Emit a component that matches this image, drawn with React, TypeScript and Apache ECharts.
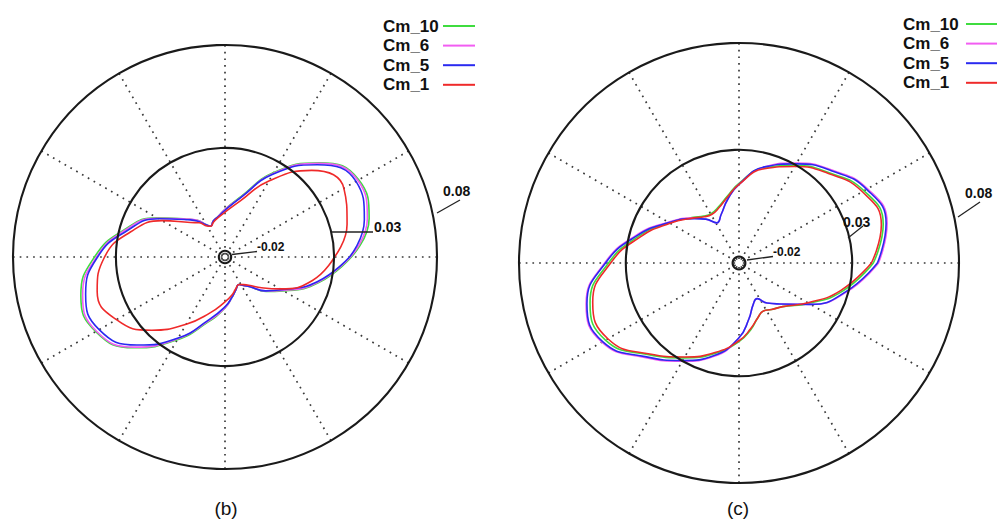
import React, { useEffect, useRef } from 'react';
import * as echarts from 'echarts';

// ---------------- data ----------------
const seriesNames = ['Cm_10', 'Cm_6', 'Cm_5', 'Cm_1'];
const seriesColors = ['#3fdc3f', '#f25df2', '#2a2af0', '#ef2a2a'];

const ringValues = [-0.02, 0.03, 0.08];
const ringLabels = ['-0.02', '0.03', '0.08'];
const radiusMin = -0.023;
const radiusMax = 0.08;
const angleStep = 30;

const panelLabels = ['(b)', '(c)'];

// panel (b)
const anglesB = [0, 15, 30, 45, 60, 75, 90, 100, 108, 115, 120, 127, 135, 150, 165, 180, 195, 210, 225, 240, 255, 270, 280, 288, 297, 303, 310, 320, 330, 345];
const cm10B = [0.0384, 0.0495, 0.0520, 0.0418, 0.0244, 0.0075, 0.0002, -0.0032, -0.0046, -0.0065, -0.0051, -0.0007, 0.0031, 0.0152, 0.0278, 0.0404, 0.0495, 0.0495, 0.0394, 0.0234, 0.0099, 0.0017, -0.0032, -0.0061, -0.0080, -0.0065, -0.0041, 0.0031, 0.0099, 0.0244];
const cm6B = [0.0379, 0.0486, 0.0515, 0.0413, 0.0239, 0.0070, 0.0002, -0.0032, -0.0046, -0.0065, -0.0051, -0.0007, 0.0031, 0.0147, 0.0273, 0.0394, 0.0486, 0.0491, 0.0389, 0.0229, 0.0094, 0.0017, -0.0032, -0.0061, -0.0080, -0.0065, -0.0041, 0.0026, 0.0094, 0.0239];
const cm5B = [0.0375, 0.0471, 0.0505, 0.0404, 0.0234, 0.0070, -0.0003, -0.0032, -0.0046, -0.0065, -0.0051, -0.0012, 0.0026, 0.0142, 0.0263, 0.0389, 0.0471, 0.0476, 0.0375, 0.0225, 0.0089, 0.0012, -0.0032, -0.0061, -0.0080, -0.0065, -0.0041, 0.0026, 0.0089, 0.0234];
const cm1B = [0.0302, 0.0384, 0.0437, 0.0365, 0.0196, 0.0051, -0.0012, -0.0036, -0.0051, -0.0065, -0.0056, -0.0022, 0.0007, 0.0123, 0.0244, 0.0355, 0.0413, 0.0379, 0.0273, 0.0147, 0.0051, -0.0012, -0.0041, -0.0065, -0.0080, -0.0070, -0.0051, 0.0002, 0.0080, 0.0210];

// panel (c)
const anglesC = [0, 15, 30, 45, 60, 75, 90, 100, 110, 119, 127, 135, 150, 165, 180, 195, 210, 225, 240, 255, 270, 280, 289, 297, 305, 315, 330, 345];
const cm10C = [0.0399, 0.0469, 0.0446, 0.0367, 0.0297, 0.0232, 0.0143, 0.0087, 0.0050, 0.0036, 0.0045, 0.0073, 0.0148, 0.0255, 0.0381, 0.0492, 0.0492, 0.0376, 0.0283, 0.0208, 0.0138, 0.0087, 0.0041, 0.0022, 0.0036, 0.0059, 0.0148, 0.0274];
const cm6C = [0.0423, 0.0488, 0.0465, 0.0385, 0.0311, 0.0236, 0.0138, 0.0073, 0.0013, -0.0015, 0.0027, 0.0069, 0.0152, 0.0269, 0.0399, 0.0511, 0.0511, 0.0395, 0.0301, 0.0222, 0.0120, 0.0036, -0.0025, -0.0043, -0.0001, 0.0041, 0.0157, 0.0292];
const cm5C = [0.0418, 0.0483, 0.0460, 0.0381, 0.0306, 0.0236, 0.0138, 0.0073, 0.0013, -0.0015, 0.0027, 0.0064, 0.0148, 0.0264, 0.0395, 0.0507, 0.0507, 0.0390, 0.0297, 0.0218, 0.0120, 0.0036, -0.0025, -0.0043, -0.0001, 0.0041, 0.0157, 0.0288];
const cm1C = [0.0390, 0.0460, 0.0437, 0.0362, 0.0292, 0.0227, 0.0138, 0.0083, 0.0045, 0.0031, 0.0041, 0.0069, 0.0143, 0.0246, 0.0371, 0.0479, 0.0479, 0.0371, 0.0278, 0.0204, 0.0134, 0.0083, 0.0041, 0.0022, 0.0036, 0.0059, 0.0143, 0.0264];

const panelsData = [
  { angles: anglesB, values: [cm10B, cm6B, cm5B, cm1B] },
  { angles: anglesC, values: [cm10C, cm6C, cm5C, cm1C] },
];

// ---------------- layout ----------------
const polarLayout = [
  { center: [225, 257], radius: 212 },
  { center: [739, 263], radius: 220 },
];

const FONT = '"Liberation Sans", Arial, sans-serif';

function toPairs(values: number[], angles: number[]) {
  const pts = values.map((v, i) => [v, angles[i]]);
  pts.push([values[0], 360]);
  return pts;
}

function leader(x1: number, y1: number, x2: number, y2: number) {
  return {
    type: 'line',
    silent: true,
    z: 10,
    shape: { x1, y1, x2, y2 },
    style: { stroke: '#222', lineWidth: 1.3 },
  };
}

function label(text: string, x: number, y: number, size: number) {
  return {
    type: 'text',
    silent: true,
    z: 10,
    x,
    y,
    style: {
      text,
      fill: '#111',
      fontFamily: FONT,
      fontWeight: 'bold',
      fontSize: size,
      align: 'left',
      verticalAlign: 'middle',
    },
  };
}

export default function App() {
  const ref = useRef<HTMLDivElement>(null);

  useEffect(() => {
    if (!ref.current) return;
    const chart = echarts.init(ref.current, undefined, { renderer: 'svg' });

    const series: any[] = [];
    panelsData.forEach((panel, p) => {
      seriesNames.forEach((name, s) => {
        series.push({
          type: 'line',
          name,
          coordinateSystem: 'polar',
          polarIndex: p,
          data: toPairs(panel.values[s], panel.angles),
          symbol: 'none',
          smooth: 0.5,
          lineStyle: { color: seriesColors[s], width: 1.6 },
          itemStyle: { color: seriesColors[s] },
          z: 3,
        });
      });
    });

    const richText = (w: number) => ({
      n: { width: w, align: 'left', fontFamily: FONT, fontWeight: 'bold', fontSize: 17, lineHeight: 18, color: '#111' },
    });

    const legendBase = {
      data: seriesNames,
      orient: 'vertical',
      align: 'right',
      icon: 'rect',
      itemWidth: 32,
      itemHeight: 2,
      itemGap: 1.6,
      formatter: '{n|{name}}',
    };

    const option: any = {
      animation: false,
      backgroundColor: '#ffffff',
      polar: polarLayout.map((l) => ({ center: l.center, radius: l.radius })),
      angleAxis: polarLayout.map((_, i) => ({
        polarIndex: i,
        type: 'value',
        min: 0,
        max: 360,
        interval: angleStep,
        startAngle: 0,
        clockwise: false,
        axisLine: { show: false },
        axisTick: { show: false },
        axisLabel: { show: false },
        splitLine: {
          show: true,
          lineStyle: { color: '#3a3a3a', width: 1.7, type: [1.7, 5] },
        },
      })),
      radiusAxis: polarLayout.map((_, i) => ({
        polarIndex: i,
        type: 'value',
        min: radiusMin,
        max: radiusMax,
        axisLine: { show: false },
        axisLabel: { show: false },
        axisTick: { show: false, customValues: ringValues },
        splitLine: { show: true, lineStyle: { color: '#1a1a1a', width: 2.1 } },
        z: 5,
      })),
      legend: [
        {
          ...legendBase,
          left: 378,
          top: 12,
          textStyle: { color: '#111', fontFamily: FONT, fontWeight: 'bold', fontSize: 17, lineHeight: 18, rich: richText(55) },
        },
        {
          ...legendBase,
          left: 898,
          top: 10,
          itemWidth: 31,
          textStyle: { color: '#111', fontFamily: FONT, fontWeight: 'bold', fontSize: 17, lineHeight: 18, rich: richText(58) },
        },
      ],
      graphic: [
        // panel (b) ring labels
        leader(232, 254.5, 257, 251.5),
        label(ringLabels[0], 257, 247, 12),
        leader(332, 232, 373, 232),
        label(ringLabels[1], 374, 227, 14),
        leader(437, 213, 460, 200),
        label(ringLabels[2], 443, 191, 14),
        // panel (c) ring labels
        leader(747, 260, 773, 256.5),
        label(ringLabels[0], 773, 252, 12),
        leader(848, 238, 863, 226),
        label(ringLabels[1], 843, 222, 14),
        leader(958, 217, 980, 202),
        label(ringLabels[2], 965, 193, 14),
        // captions
        {
          type: 'text',
          x: 226,
          y: 508,
          style: { text: panelLabels[0], fill: '#111', fontFamily: FONT, fontSize: 19, align: 'center', verticalAlign: 'middle' },
        },
        {
          type: 'text',
          x: 738,
          y: 508,
          style: { text: panelLabels[1], fill: '#111', fontFamily: FONT, fontSize: 19, align: 'center', verticalAlign: 'middle' },
        },
      ],
      series,
    };

    chart.setOption(option);
    return () => chart.dispose();
  }, []);

  return (
    <div
      ref={ref}
      style={{ position: 'absolute', left: 0, top: 0, width: 1003, height: 524 }}
    />
  );
}
